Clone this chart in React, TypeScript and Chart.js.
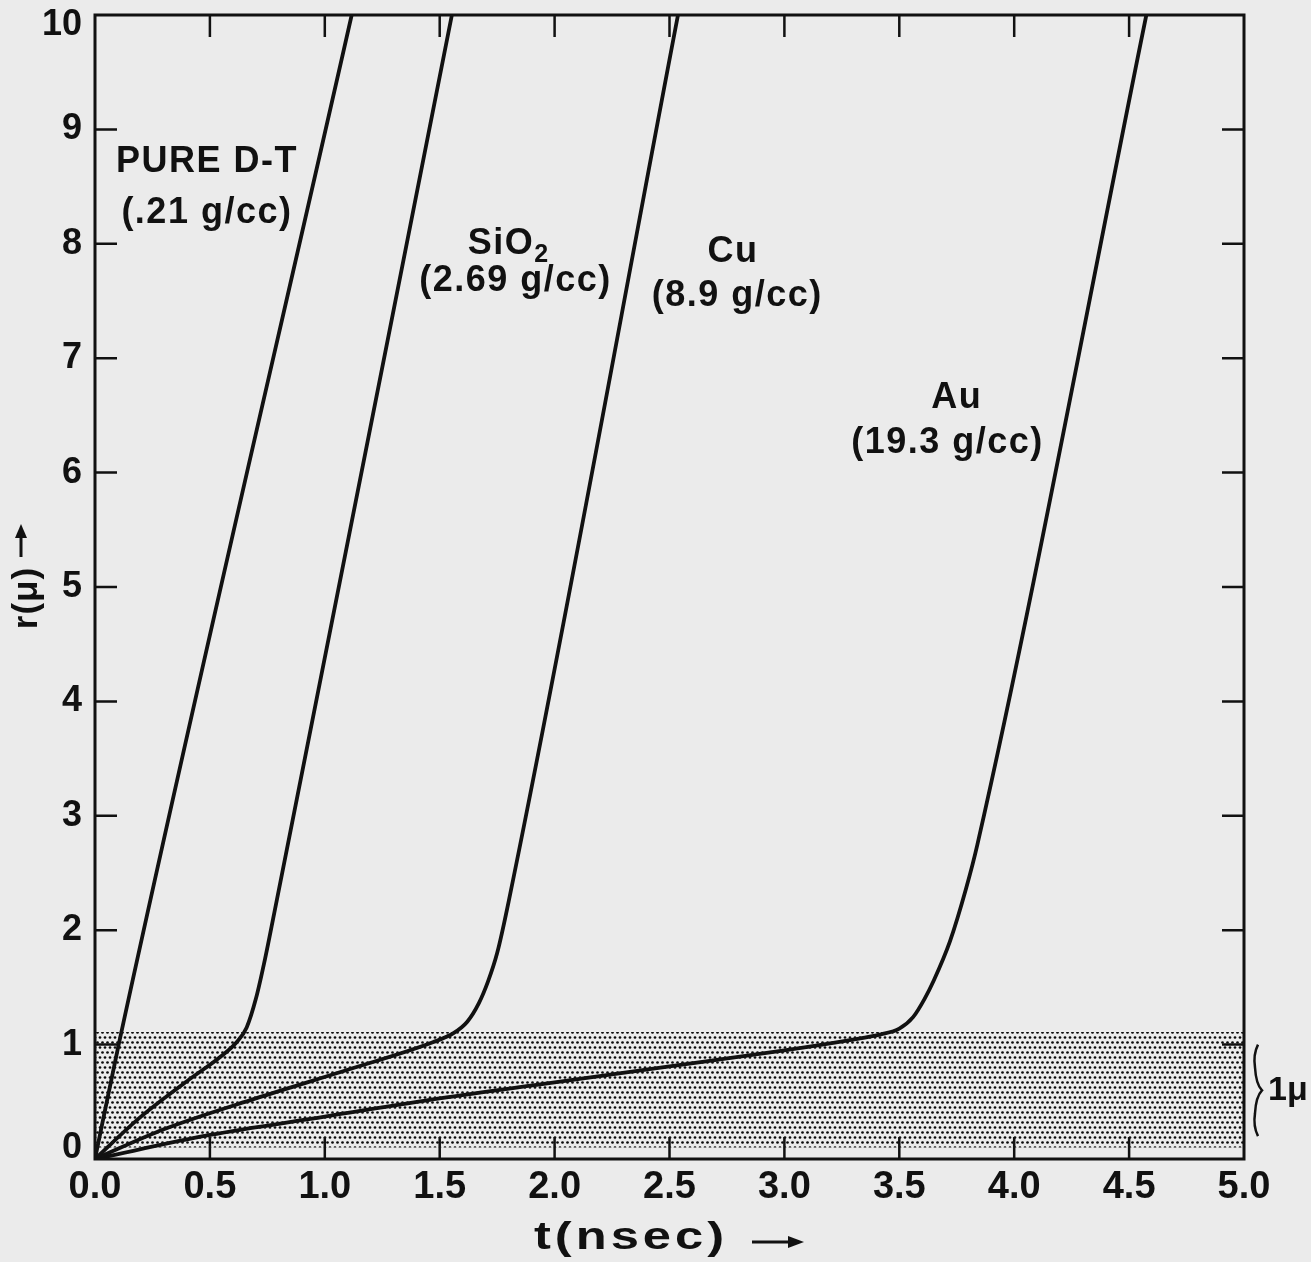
import React, { useEffect, useRef } from "react";
import { Chart, registerables } from "chart.js";

Chart.register(...registerables);

// ---- data ----
const xTickValues = [0, 0.5, 1.0, 1.5, 2.0, 2.5, 3.0, 3.5, 4.0, 4.5, 5.0];
const xTickLabels = ["0.0", "0.5", "1.0", "1.5", "2.0", "2.5", "3.0", "3.5", "4.0", "4.5", "5.0"];
const yTickValues = [0, 1, 2, 3, 4, 5, 6, 7, 8, 9, 10];
const yTickLabels = ["0", "1", "2", "3", "4", "5", "6", "7", "8", "9", "10"];

const tDT = [0, 0.103, 1.117];
const rDT = [0, 1.0, 10];

const tSiO2 = [0, 0.2, 0.4, 0.55, 0.62, 0.66, 0.7, 0.74, 0.78, 1.553];
const rSiO2 = [0, 0.37, 0.68, 0.9, 1.03, 1.15, 1.4, 1.75, 2.15, 10];

const tCu = [0, 0.3, 0.7, 1.1, 1.47, 1.56, 1.62, 1.67, 1.71, 1.75, 1.8, 2.537];
const rCu = [0, 0.26, 0.53, 0.78, 1.02, 1.1, 1.2, 1.36, 1.55, 1.8, 2.25, 10];

const tAu = [0, 0.5, 1.0, 1.5, 2.0, 2.5, 3.0, 3.285, 3.42, 3.5, 3.56, 3.61, 3.65, 3.72, 3.79, 3.84, 4.575];
const rAu = [0, 0.21, 0.37, 0.53, 0.67, 0.81, 0.95, 1.04, 1.09, 1.14, 1.24, 1.4, 1.56, 1.9, 2.36, 2.75, 10];

// shaded 1-micron layer
const bandT = [0, 5];
const bandTop = [1.11, 1.11];
const bandBottom = [0.1, 0.1];

// curve labels (data coords of text centre)
const labelTexts = ["PURE D-T", "(.21 g/cc)", "SiO|2", "(2.69 g/cc)", "Cu", "(8.9 g/cc)", "Au", "(19.3 g/cc)"];
const labelT = [0.487, 0.487, 1.8, 1.83, 2.776, 2.795, 3.75, 3.71];
const labelR = [8.71, 8.27, 8.0, 7.67, 7.93, 7.54, 6.65, 6.26];

const FONT_FAMILY = "'Liberation Sans', Arial, Helvetica, sans-serif";
const INK = "#111111";
const PAPER = "#ebebeb";

function pts(t: number[], r: number[]) {
  return t.map((v, i) => ({ x: v, y: r[i] }));
}

function makePattern(): CanvasPattern | string {
  const c = document.createElement("canvas");
  c.width = 5;
  c.height = 10;
  const g = c.getContext("2d");
  if (!g) return "rgba(0,0,0,0.25)";
  g.fillStyle = "#0a0a0a";
  const dots = [
    [2.5, 2.5],
    [0, 7.5],
    [5, 7.5],
  ];
  dots.forEach(([x, y]) => {
    g.beginPath();
    g.arc(x, y, 1.35, 0, Math.PI * 2);
    g.fill();
  });
  const p = g.createPattern(c, "repeat");
  return p || "rgba(0,0,0,0.25)";
}

const decorPlugin = {
  id: "decor",
  beforeDraw(chart: any) {
    const ctx = chart.ctx;
    ctx.save();
    ctx.fillStyle = PAPER;
    ctx.fillRect(0, 0, chart.width, chart.height);
    ctx.restore();
  },
  afterDraw(chart: any) {
    const ctx: CanvasRenderingContext2D = chart.ctx;
    const { left, right, top, bottom } = chart.chartArea;
    const xs = chart.scales.x;
    const ys = chart.scales.y;
    ctx.save();
    ctx.strokeStyle = INK;
    ctx.fillStyle = INK;
    // frame
    ctx.lineWidth = 3;
    ctx.strokeRect(left, top, right - left, bottom - top);
    // inward ticks
    const tl = 22;
    ctx.lineWidth = 2.5;
    ctx.beginPath();
    xTickValues.forEach((v) => {
      if (v <= xs.min || v >= xs.max) return;
      const px = xs.getPixelForValue(v);
      ctx.moveTo(px, bottom);
      ctx.lineTo(px, bottom - tl);
      ctx.moveTo(px, top);
      ctx.lineTo(px, top + tl);
    });
    yTickValues.forEach((v) => {
      if (v <= ys.min || v >= ys.max) return;
      const py = ys.getPixelForValue(v);
      ctx.moveTo(left, py);
      ctx.lineTo(left + tl, py);
      ctx.moveTo(right, py);
      ctx.lineTo(right - tl, py);
    });
    ctx.stroke();

    // tick labels
    ctx.font = `bold 38px ${FONT_FAMILY}`;
    ctx.textBaseline = "middle";
    ctx.textAlign = "center";
    xTickValues.forEach((v, i) => {
      ctx.fillText(xTickLabels[i], xs.getPixelForValue(v), bottom + 29);
    });
    ctx.font = `bold 36px ${FONT_FAMILY}`;
    ctx.textAlign = "right";
    yTickValues.forEach((v, i) => {
      let py = ys.getPixelForValue(v);
      if (i === 0) py -= 11;
      if (i === yTickValues.length - 1) py += 10;
      ctx.fillText(yTickLabels[i], left - 13, py);
    });

    // curve labels
    ctx.textBaseline = "middle";
    ctx.textAlign = "left";
    const mainFont = `bold 36px ${FONT_FAMILY}`;
    const subFont = `bold 25px ${FONT_FAMILY}`;
    (ctx as any).letterSpacing = "1.5px";
    labelTexts.forEach((txt, i) => {
      const cx = xs.getPixelForValue(labelT[i]);
      const cy = ys.getPixelForValue(labelR[i]);
      const parts = txt.split("|");
      ctx.font = mainFont;
      const w0 = ctx.measureText(parts[0]).width;
      let w1 = 0;
      if (parts[1]) {
        ctx.font = subFont;
        w1 = ctx.measureText(parts[1]).width;
      }
      const x0 = cx - (w0 + w1) / 2;
      ctx.font = mainFont;
      ctx.fillText(parts[0], x0, cy);
      if (parts[1]) {
        ctx.font = subFont;
        ctx.fillText(parts[1], x0 + w0, cy + 11);
      }
    });

    // x title, stretched to the printed width
    ctx.font = `bold 38px ${FONT_FAMILY}`;
    (ctx as any).letterSpacing = "3px";
    ctx.textAlign = "center";
    const tw = ctx.measureText("t(nsec)").width;
    ctx.save();
    ctx.translate(631, 1239);
    ctx.scale(194 / tw, 1);
    ctx.fillText("t(nsec)", 0, 0);
    ctx.restore();
    ctx.lineWidth = 3;
    ctx.beginPath();
    ctx.moveTo(752, 1242);
    ctx.lineTo(795, 1242);
    ctx.stroke();
    ctx.beginPath();
    ctx.moveTo(804, 1242);
    ctx.lineTo(788, 1236);
    ctx.lineTo(788, 1248);
    ctx.closePath();
    ctx.fill();

    // y title (rotated)
    ctx.save();
    ctx.translate(27, 598);
    ctx.rotate(-Math.PI / 2);
    ctx.textAlign = "center";
    ctx.font = `bold 35px ${FONT_FAMILY}`;
    (ctx as any).letterSpacing = "1px";
    ctx.fillText("r(μ)", 0, 0);
    ctx.restore();
    ctx.lineWidth = 3;
    ctx.beginPath();
    ctx.moveTo(21, 557);
    ctx.lineTo(21, 534);
    ctx.stroke();
    ctx.beginPath();
    ctx.moveTo(21, 524);
    ctx.lineTo(15, 538);
    ctx.lineTo(27, 538);
    ctx.closePath();
    ctx.fill();

    // 1 micron brace on the right
    const yTop = ys.getPixelForValue(1.0);
    const yBot = ys.getPixelForValue(0.2);
    const yMid = (yTop + yBot) / 2;
    const bx = right + 14;
    ctx.lineWidth = 2.5;
    ctx.beginPath();
    ctx.moveTo(bx, yTop);
    ctx.quadraticCurveTo(bx - 5, yTop + 10, bx - 3, (yTop + yMid) / 2);
    ctx.quadraticCurveTo(bx - 2, yMid - 6, bx + 4, yMid);
    ctx.quadraticCurveTo(bx - 2, yMid + 6, bx - 3, (yMid + yBot) / 2);
    ctx.quadraticCurveTo(bx - 5, yBot - 10, bx, yBot);
    ctx.stroke();
    ctx.font = `bold 34px ${FONT_FAMILY}`;
    (ctx as any).letterSpacing = "0px";
    ctx.textAlign = "left";
    ctx.fillText("1μ", bx + 10, yMid);
    ctx.restore();
  },
};

export default function App() {
  const ref = useRef<HTMLCanvasElement | null>(null);

  useEffect(() => {
    document.body.style.margin = "0";
    document.body.style.background = PAPER;
    const canvas = ref.current;
    if (!canvas) return;
    const pattern = makePattern();
    const lineStyle = {
      showLine: true,
      borderColor: INK,
      borderWidth: 3.8,
      pointRadius: 0,
      fill: false,
      cubicInterpolationMode: "monotone" as const,
      order: 0,
    };
    const chart = new Chart(canvas, {
      type: "scatter",
      data: {
        datasets: [
          {
            label: "band top",
            data: pts(bandT, bandTop),
            showLine: true,
            borderWidth: 0,
            borderColor: "rgba(0,0,0,0)",
            pointRadius: 0,
            backgroundColor: pattern as any,
            fill: "+1",
            order: 10,
          },
          {
            label: "band bottom",
            data: pts(bandT, bandBottom),
            showLine: true,
            borderWidth: 0,
            borderColor: "rgba(0,0,0,0)",
            pointRadius: 0,
            fill: false,
            order: 10,
          },
          { label: "PURE D-T", data: pts(tDT, rDT), ...lineStyle },
          { label: "SiO2", data: pts(tSiO2, rSiO2), ...lineStyle },
          { label: "Cu", data: pts(tCu, rCu), ...lineStyle },
          { label: "Au", data: pts(tAu, rAu), ...lineStyle },
        ],
      },
      options: {
        animation: false,
        responsive: false,
        maintainAspectRatio: false,
        layout: { padding: { top: 15, right: 67, left: 0, bottom: 0 } },
        plugins: { legend: { display: false }, tooltip: { enabled: false } },
        scales: {
          x: {
            type: "linear",
            min: 0,
            max: 5,
            grid: { display: false, drawTicks: false },
            border: { display: false },
            ticks: { display: false, stepSize: 0.5 },
            afterFit: (s: any) => {
              s.height = 103;
            },
          },
          y: {
            type: "linear",
            min: 0,
            max: 10,
            grid: { display: false, drawTicks: false },
            border: { display: false },
            ticks: { display: false, stepSize: 1 },
            afterFit: (s: any) => {
              s.width = 95;
            },
          },
        },
      },
      plugins: [decorPlugin],
    });
    return () => chart.destroy();
  }, []);

  return (
    <div style={{ width: 1311, height: 1262, background: PAPER }}>
      <canvas ref={ref} width={1311} height={1262} style={{ display: "block" }} />
    </div>
  );
}
